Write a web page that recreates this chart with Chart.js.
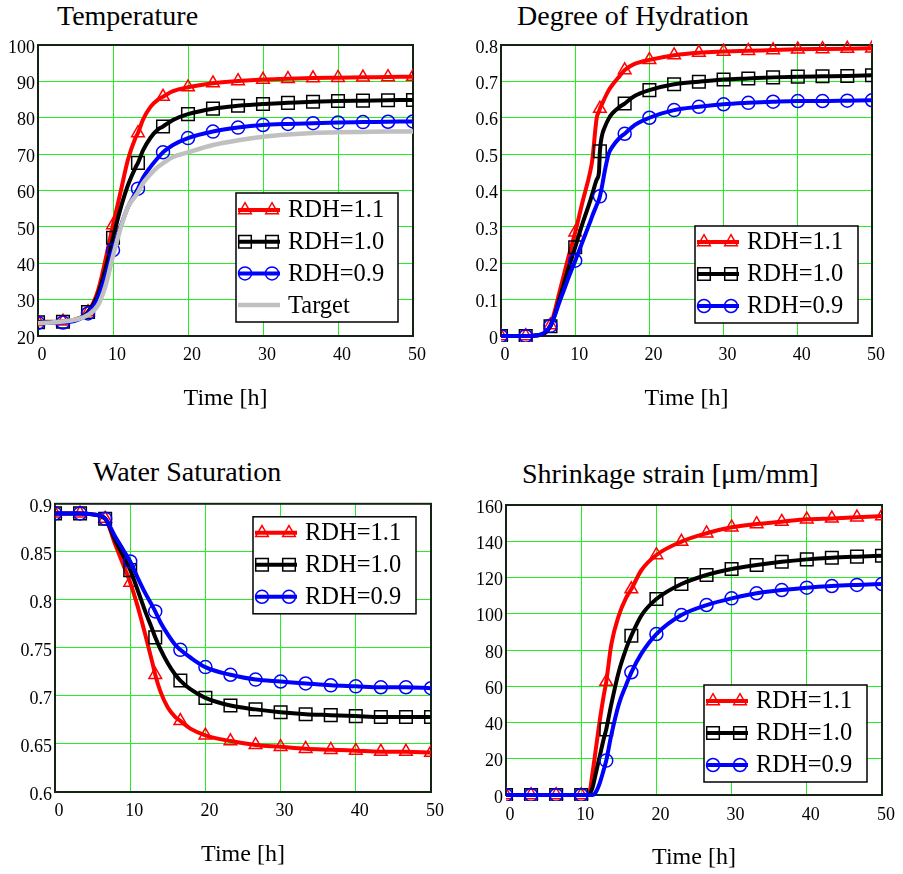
<!DOCTYPE html>
<html>
<head>
<meta charset="utf-8">
<script src="https://cdn.jsdelivr.net/npm/chart.js@4.4.0/dist/chart.umd.min.js"></script>
<style>
  body { margin: 0; background: #fff; }
  #page { position: relative; width: 903px; height: 874px; overflow: hidden; font-family: "Liberation Serif", "Times New Roman", serif; }
  .panel { position: absolute; }
  .title { position: absolute; font-size: 28px; line-height: 28px; white-space: nowrap; color: #000; }
</style>
</head>
<body>
<div id="page">
  <div class="title" style="left:57px;top:1.5px">Temperature</div>
  <div class="title" style="left:517px;top:1.5px">Degree of Hydration</div>
  <div class="title" style="left:93px;top:457.5px">Water Saturation</div>
  <div class="title" style="left:522px;top:459.5px">Shrinkage strain [μm/mm]</div>
  <div class="panel" style="left:0;top:30px"><canvas id="temp" width="450" height="385"></canvas></div>
  <div class="panel" style="left:452px;top:30px"><canvas id="hyd" width="451" height="385"></canvas></div>
  <div class="panel" style="left:0;top:490px"><canvas id="sat" width="450" height="384"></canvas></div>
  <div class="panel" style="left:452px;top:490px"><canvas id="shr" width="451" height="384"></canvas></div>
</div>
<script>
// data
const markerHours = [0, 3.33, 6.67, 10, 13.33, 16.67, 20, 23.33, 26.67, 30, 33.33, 36.67, 40, 43.33, 46.67, 50];
const hourTicks = [0, 10, 20, 30, 40, 50];

const tempHours = [0, 3.33, 5, 6.67, 8, 9, 10, 11, 12, 13, 13.33, 14, 15, 16, 16.67, 18, 20, 23.33, 26.67, 30, 33.33, 36.67, 40, 43.33, 46.67, 50];
const tempRdh11 = [23.9, 24.0, 24.6, 26.6, 32.5, 41, 50.5, 59.5, 68.5, 74.5, 75.8, 79.5, 83, 85, 85.8, 87.3, 88.4, 89.5, 90.1, 90.5, 90.7, 90.9, 91.0, 91.1, 91.2, 91.3];
const tempRdh10 = [23.8, 23.9, 24.4, 26.6, 31.5, 38.5, 47, 55, 61.5, 66.3, 67.6, 71, 74.5, 76.8, 77.6, 79.4, 81, 82.5, 83.3, 83.8, 84.1, 84.4, 84.6, 84.7, 84.8, 84.9];
const tempRdh09 = [23.6, 23.7, 24.2, 26.2, 30.5, 36.5, 43.6, 50, 55.5, 59.3, 60.5, 63.5, 66.5, 69, 70.5, 72.5, 74.4, 76.2, 77.3, 78, 78.3, 78.5, 78.7, 78.8, 78.9, 79.0];
const tempTarget = [23.5, 24, 24.5, 25.8, 28.5, 33.8, 42, 49.5, 55.5, 58.5, 59.5, 62, 64.5, 66.5, 67.5, 69.2, 70.5, 72.5, 73.8, 74.8, 75.4, 75.8, 76.0, 76.1, 76.2, 76.2];
const tempTicks = [20, 30, 40, 50, 60, 70, 80, 90, 100];

const hydHours = [0, 3.33, 5, 6.67, 8, 9, 10, 11, 12, 12.3, 12.9, 13.2, 13.33, 13.6, 14, 14.5, 15, 16, 16.67, 18, 20, 23.33, 26.67, 30, 33.33, 36.67, 40, 43.33, 46.67, 50];
const hydRdh11 = [0, 0, 0.002, 0.03, 0.13, 0.21, 0.285, 0.37, 0.45, 0.483, 0.6, 0.617, 0.625, 0.637, 0.655, 0.675, 0.69, 0.715, 0.731, 0.748, 0.759, 0.772, 0.779, 0.782, 0.784, 0.786, 0.788, 0.789, 0.79, 0.791];
const hydRdh10 = [0, 0, 0.002, 0.027, 0.11, 0.18, 0.244, 0.31, 0.37, 0.39, 0.43, 0.45, 0.508, 0.55, 0.575, 0.597, 0.612, 0.63, 0.639, 0.66, 0.676, 0.692, 0.699, 0.705, 0.708, 0.711, 0.713, 0.714, 0.715, 0.717];
const hydRdh09 = [0, 0, 0.002, 0.028, 0.1, 0.155, 0.207, 0.26, 0.313, 0.33, 0.36, 0.375, 0.384, 0.41, 0.455, 0.5, 0.52, 0.545, 0.556, 0.58, 0.6, 0.621, 0.63, 0.637, 0.641, 0.644, 0.646, 0.646, 0.647, 0.648];
const hydTicks = [0, 0.1, 0.2, 0.3, 0.4, 0.5, 0.6, 0.7, 0.8];

const satHours = [0, 3.33, 5, 6.67, 8, 9, 10, 11, 12, 13, 13.33, 14, 15, 16, 16.67, 18, 20, 23.33, 26.67, 30, 33.33, 36.67, 40, 43.33, 46.67, 50];
const satRdh11 = [0.89, 0.89, 0.889, 0.8845, 0.858, 0.838, 0.818, 0.793, 0.764, 0.733, 0.722, 0.705, 0.688, 0.678, 0.674, 0.666, 0.659, 0.653, 0.649, 0.647, 0.645, 0.644, 0.643, 0.642, 0.642, 0.641];
const satRdh10 = [0.89, 0.89, 0.889, 0.8845, 0.862, 0.847, 0.831, 0.81, 0.788, 0.768, 0.761, 0.749, 0.734, 0.722, 0.716, 0.707, 0.698, 0.69, 0.686, 0.683, 0.681, 0.68, 0.679, 0.678, 0.678, 0.678];
const satRdh09 = [0.89, 0.89, 0.889, 0.8845, 0.866, 0.853, 0.84, 0.823, 0.807, 0.793, 0.788, 0.777, 0.764, 0.753, 0.748, 0.74, 0.73, 0.722, 0.717, 0.715, 0.713, 0.711, 0.71, 0.709, 0.709, 0.708];
const satTicks = [0.6, 0.65, 0.7, 0.75, 0.8, 0.85, 0.9];

const shrHours = [0, 3.33, 6.67, 10, 11, 11.5, 12, 12.5, 13, 13.33, 14, 15, 16, 16.67, 18, 20, 23.33, 26.67, 30, 33.33, 36.67, 40, 43.33, 46.67, 50];
const shrRdh11 = [0, 0, 0, 0, 0, 12, 27, 42, 55, 62.5, 83, 99, 109, 113.6, 124, 132.4, 139.8, 144.4, 147.7, 149.5, 150.8, 152.1, 152.6, 153.2, 153.9];
const shrRdh10 = [0, 0, 0, 0, 0, 4, 13, 22, 31, 36.2, 50, 68, 81, 87.9, 99, 108.1, 116.4, 121.4, 124.7, 126.9, 128.7, 130, 130.9, 131.5, 132];
const shrRdh09 = [0, 0, 0, 0, 0, 0, 2, 7, 14, 19, 33, 50, 61, 67.7, 78, 88.8, 99.3, 104.8, 108.5, 111.3, 113.1, 114.4, 115.3, 115.9, 116.4];
const shrTicks = [0, 20, 40, 60, 80, 100, 120, 140, 160];

const FONT = '"Liberation Serif", "Times New Roman", serif';
const GRID = '#22ee22';
const FRAME = '#142414';
const TEXT = '#000';

const STYLES = {
  'RDH=1.1': { color: '#ff0000', pointStyle: 'triangle', radius: 7.3, width: 4, order: 4 },
  'RDH=1.0': { color: '#000000', pointStyle: 'rect', radius: 8.9, width: 4, order: 3 },
  'RDH=0.9': { color: '#0000ff', pointStyle: 'circle', radius: 6.5, width: 4, order: 2 },
  'Target':  { color: '#c0c0c0', pointStyle: false, radius: 0, width: 4.5, order: 1 }
};

function drawMarker(ctx, style, r, x, y, color) {
  ctx.save();
  ctx.strokeStyle = color;
  ctx.lineWidth = 1.5;
  ctx.beginPath();
  if (style === 'circle') {
    ctx.arc(x, y, r, 0, Math.PI * 2);
  } else if (style === 'rect') {
    const s = r * Math.SQRT1_2;
    ctx.rect(x - s, y - s, 2 * s, 2 * s);
  } else if (style === 'triangle') {
    ctx.moveTo(x, y - r);
    ctx.lineTo(x + r * Math.sin(2 * Math.PI / 3), y - r * Math.cos(2 * Math.PI / 3));
    ctx.lineTo(x + r * Math.sin(4 * Math.PI / 3), y - r * Math.cos(4 * Math.PI / 3));
    ctx.closePath();
  }
  ctx.stroke();
  ctx.restore();
}

// dark frame round the plot area
const framePlugin = {
  id: 'frame',
  beforeDatasetsDraw(chart) {
    const { ctx, chartArea: a } = chart;
    ctx.save();
    ctx.strokeStyle = FRAME;
    ctx.lineWidth = 2;
    ctx.strokeRect(a.left, a.top, a.right - a.left, a.bottom - a.top);
    ctx.restore();
  }
};

// boxed legend inside the plot, line sample with two markers
const boxLegend = {
  id: 'boxLegend',
  afterDraw(chart, args, opts) {
    const { ctx, chartArea: a } = chart;
    const x0 = a.left + opts.left, y0 = a.top + opts.top;
    ctx.save();
    ctx.fillStyle = '#fff';
    ctx.fillRect(x0, y0, opts.width, opts.height);
    ctx.strokeStyle = TEXT;
    ctx.lineWidth = 1.5;
    ctx.strokeRect(x0, y0, opts.width, opts.height);
    chart.data.datasets.forEach((ds, i) => {
      const st = STYLES[ds.label];
      const y = y0 + opts.firstRow + i * opts.rowGap;
      ctx.strokeStyle = st.color;
      ctx.lineWidth = st.width;
      ctx.beginPath();
      ctx.moveTo(x0 + 2, y);
      ctx.lineTo(x0 + 44, y);
      ctx.stroke();
      if (st.pointStyle) {
        drawMarker(ctx, st.pointStyle, st.radius, x0 + 9, y, st.color);
        drawMarker(ctx, st.pointStyle, st.radius, x0 + 36, y, st.color);
      }
      ctx.fillStyle = TEXT;
      ctx.font = '24.5px ' + FONT;
      ctx.textBaseline = 'middle';
      ctx.textAlign = 'left';
      ctx.fillText(ds.label, x0 + 52, y + 1);
    });
    ctx.restore();
  }
};

function makeDataset(label, hours, values) {
  const st = STYLES[label];
  return {
    label: label,
    data: hours.map((h, i) => ({ x: h, y: values[i] })),
    borderColor: st.color,
    borderWidth: st.width,
    pointStyle: st.pointStyle || 'circle',
    pointRadius: ctx => (st.pointStyle && ctx.raw && markerHours.includes(ctx.raw.x)) ? st.radius : 0,
    pointBorderColor: st.color,
    pointBackgroundColor: 'rgba(0,0,0,0)',
    pointBorderWidth: 1.5,
    cubicInterpolationMode: 'monotone',
    fill: false,
    order: st.order,
    clip: { left: 0, right: 0, top: 6, bottom: 6 }
  };
}

function makeChart(id, spec) {
  return new Chart(document.getElementById(id), {
    type: 'line',
    data: { datasets: spec.series.map(s => makeDataset(s[0], spec.hours, s[1])) },
    options: {
      responsive: false,
      animation: false,
      events: [],
      layout: { padding: { left: 0, top: spec.padTop, right: spec.padRight, bottom: 0 } },
      plugins: {
        legend: { display: false },
        tooltip: { enabled: false },
        boxLegend: spec.legend
      },
      scales: {
        x: {
          type: 'linear', min: 0, max: 50,
          afterBuildTicks: s => { s.ticks = hourTicks.map(v => ({ value: v })); },
          afterFit: s => { s.height = spec.xHeight; },
          grid: {
            color: c => (c.tick && (c.tick.value === 0 || c.tick.value === 50)) ? 'rgba(0,0,0,0)' : GRID,
            lineWidth: 1, drawTicks: false
          },
          border: { display: false },
          ticks: { font: { family: FONT, size: 18 }, color: TEXT, padding: spec.xTickPad, labelOffset: 4, maxRotation: 0, autoSkip: false },
          title: { display: true, text: 'Time [h]', font: { family: FONT, size: 24, lineHeight: 1 }, color: TEXT, padding: { top: 0, bottom: spec.xTitlePad } }
        },
        y: {
          type: 'linear', min: spec.yTicks[0], max: spec.yTicks[spec.yTicks.length - 1],
          afterBuildTicks: s => { s.ticks = spec.yTicks.map(v => ({ value: v })); },
          afterFit: s => { s.width = spec.yWidth; },
          grid: {
            color: c => (c.index === 0 || c.index === spec.yTicks.length - 1) ? 'rgba(0,0,0,0)' : GRID,
            lineWidth: 1, drawTicks: false
          },
          border: { display: false },
          ticks: { font: { family: FONT, size: 18 }, color: TEXT, padding: 3, labelOffset: 3, autoSkip: false, callback: v => String(v) }
        }
      }
    },
    plugins: [framePlugin, boxLegend]
  });
}

makeChart('temp', {
  hours: tempHours,
  series: [['RDH=1.1', tempRdh11], ['RDH=1.0', tempRdh10], ['RDH=0.9', tempRdh09], ['Target', tempTarget]],
  yTicks: tempTicks, yWidth: 38, padTop: 15, padRight: 37, xHeight: 79, xTickPad: 8, xTitlePad: 4,
  legend: { left: 198, top: 148, width: 162, height: 129, firstRow: 17, rowGap: 31.7 }
});
makeChart('hyd', {
  hours: hydHours,
  series: [['RDH=1.1', hydRdh11], ['RDH=1.0', hydRdh10], ['RDH=0.9', hydRdh09]],
  yTicks: hydTicks, yWidth: 49, padTop: 15, padRight: 31, xHeight: 79, xTickPad: 8, xTitlePad: 4,
  legend: { left: 194, top: 181, width: 163, height: 97, firstRow: 16, rowGap: 32 }
});
makeChart('sat', {
  hours: satHours,
  series: [['RDH=1.1', satRdh11], ['RDH=1.0', satRdh10], ['RDH=0.9', satRdh09]],
  yTicks: satTicks, yWidth: 55, padTop: 12, padRight: 19, xHeight: 82, xTickPad: 8, xTitlePad: 7,
  legend: { left: 198, top: 13, width: 163, height: 97, firstRow: 16, rowGap: 32 }
});
makeChart('shr', {
  hours: shrHours,
  series: [['RDH=1.1', shrRdh11], ['RDH=1.0', shrRdh10], ['RDH=0.9', shrRdh09]],
  yTicks: shrTicks, yWidth: 54, padTop: 15, padRight: 21, xHeight: 79, xTickPad: 9, xTitlePad: 4,
  legend: { left: 198, top: 180, width: 163, height: 97, firstRow: 16, rowGap: 32 }
});
</script>
</body>
</html>
